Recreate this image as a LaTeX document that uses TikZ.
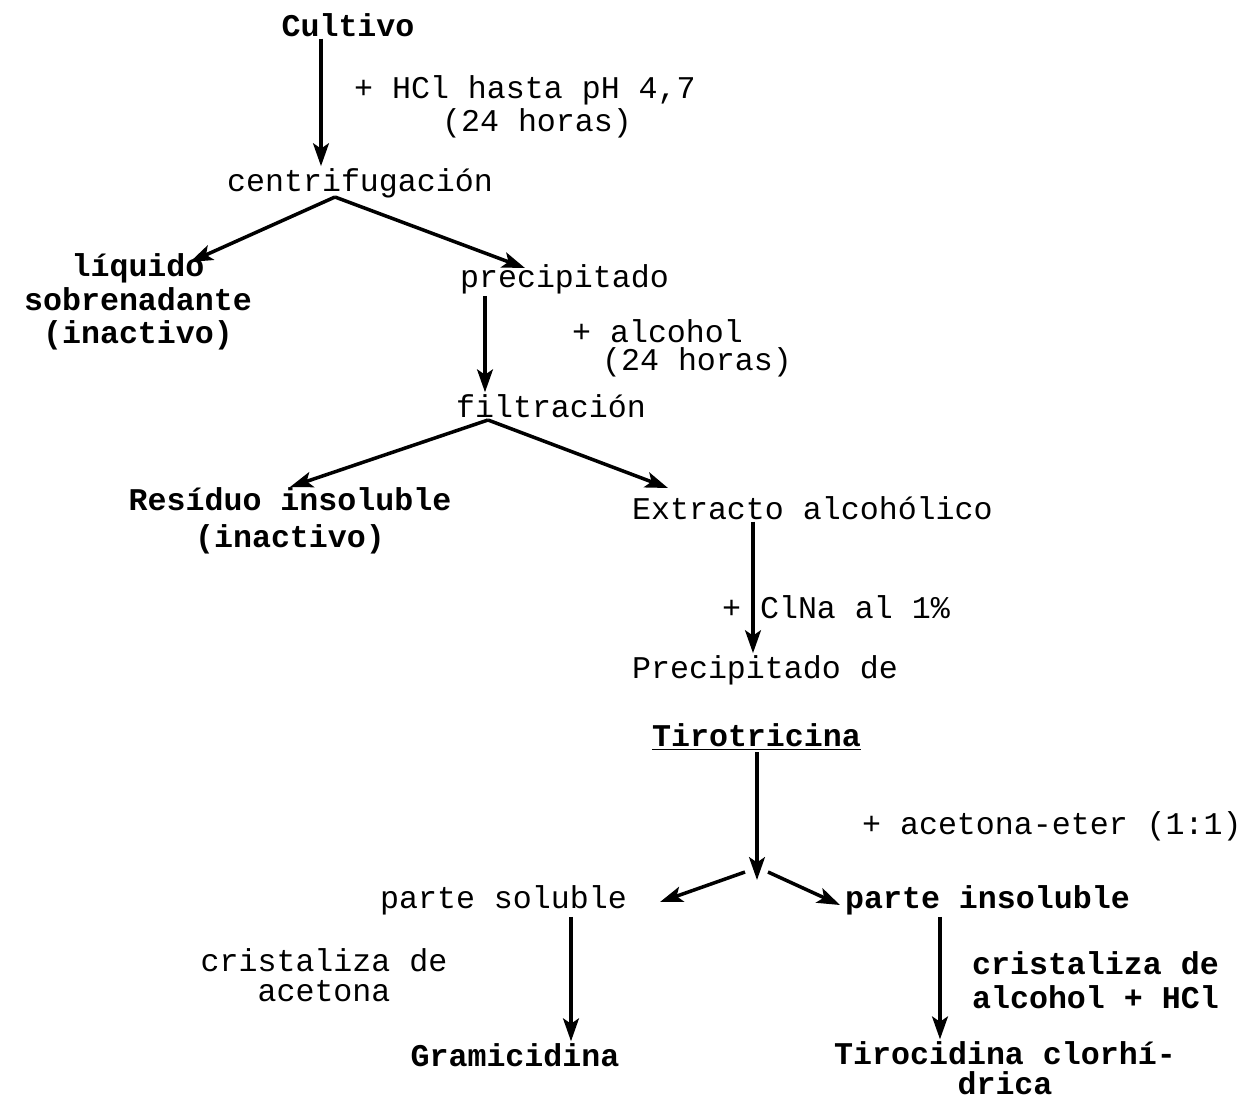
\documentclass[tikz,border=0pt]{standalone}
\usepackage{fontspec}
\setmonofont{Liberation Mono}
\usetikzlibrary{arrows.meta}
\begin{document}
\begin{tikzpicture}[x=0.02cm,y=-0.02cm,
  lbl/.style={font=\ttfamily\fontsize{18}{19}\selectfont, inner sep=1pt},
  blbl/.style={font=\ttfamily\bfseries\fontsize{18}{19}\selectfont, inner sep=1pt},
  arr/.style={line width=2pt, -{Stealth[length=13pt,width=9pt,inset=3pt]}}]
\useasboundingbox (0,0) rectangle (1249,1100);
% texts
\node[blbl] (cult) at (348,25) {Cultivo};
\node[lbl,anchor=west] (hcl) at (352,90) {+ HCl hasta pH 4,7};
\node[lbl,anchor=west] (hcl2) at (440,123) {(24 horas)};
\node[lbl] (centr) at (360,183) {centrifugación};
\node[blbl,align=center,font=\ttfamily\bfseries\fontsize{18}{19}\selectfont] (liq) at (138,302) {líquido\\sobrenadante\\(inactivo)};
\node[lbl,anchor=west] (prec) at (458,279) {precipitado};
\node[lbl,anchor=west] (alc) at (570,331) {+ alcohol};
\node[lbl,anchor=west] (alc2) at (600,362) {(24 horas)};
\node[lbl] (filt) at (551,406) {filtración};
\node[blbl,align=center,font=\ttfamily\bfseries\fontsize{18}{21}\selectfont] (res) at (290,521) {Resíduo insoluble\\(inactivo)};
\node[lbl,anchor=west] (ext) at (630,508) {Extracto alcohólico};
\node[lbl,anchor=west] (cln) at (720,607) {+ ClNa al 1\%};
\node[lbl,anchor=west] (pde) at (630,670) {Precipitado de};
\node[blbl,anchor=west] (tiro) at (650,737) {\underline{Tirotricina}};
\node[lbl,anchor=west] (ace) at (860,826) {+ acetona-eter (1:1)};
\node[lbl,anchor=west] (psol) at (378,900) {parte soluble};
\node[blbl,anchor=west] (pins) at (843,900) {parte insoluble};
\node[lbl,align=center,font=\ttfamily\fontsize{18}{17}\selectfont] (cac) at (324,975) {cristaliza de\\acetona};
\node[blbl] (gram) at (515,1055) {Gramicidina};
\node[blbl,align=left,anchor=west,font=\ttfamily\bfseries\fontsize{18}{19}\selectfont] (calc) at (970,980) {cristaliza de\\alcohol + HCl};
\node[blbl,align=center,font=\ttfamily\bfseries\fontsize{18}{17}\selectfont] (tclo) at (1005,1068) {Tirocidina clorhí-\\drica};
% helper coordinates
\coordinate (xA) at (321,0);
\coordinate (xB) at (485,0);
\coordinate (xC) at (753,0);
\coordinate (xD) at (757,0);
\coordinate (xE) at (571,0);
\coordinate (xF) at (940,0);
\coordinate (b1) at (335,197);
\coordinate (liqT) at (190,262);
\coordinate (precT) at (525,268);
\coordinate (b2) at (488,420);
\coordinate (resT) at (290,487);
\coordinate (extT) at (668,488);
\coordinate (b3) at (757,880);
\coordinate (b3L) at (745,872);
\coordinate (b3R) at (768,872);
\coordinate (psolT) at (660,902);
\coordinate (pinsT) at (840,905);
% connectors
\draw[arr] (cult.south -| xA) -- (centr.north -| xA);
\draw[arr] (b1) -- (liqT);
\draw[arr] (b1) -- (precT);
\draw[arr] (prec.south -| xB) -- (filt.north -| xB);
\draw[arr] (b2) -- (resT);
\draw[arr] (b2) -- (extT);
\draw[arr] (ext.south -| xC) -- (pde.north -| xC);
\draw[arr] (tiro.south -| xD) -- (b3);
\draw[arr] (b3L) -- (psolT);
\draw[arr] (b3R) -- (pinsT);
\draw[arr] (psol.south -| xE) -- (gram.north -| xE);
\draw[arr] (pins.south -| xF) -- (tclo.north -| xF);
\end{tikzpicture}
\end{document}
